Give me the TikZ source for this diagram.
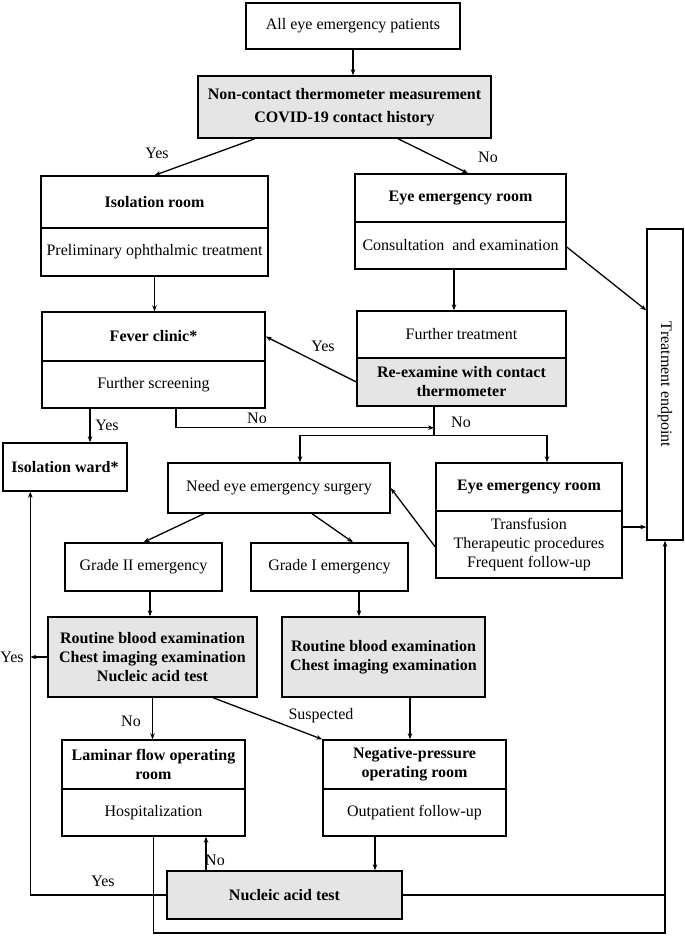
\documentclass[tikz,border=0pt]{standalone}
\usepackage{fontspec}
\setmainfont{Liberation Serif}
\usetikzlibrary{arrows.meta,calc}
\definecolor{boxgray}{RGB}{229,229,229}
\begin{document}
\begin{tikzpicture}[x=1pt,y=-1pt,
  bx/.style={draw, line width=1.4pt, inner sep=0pt, align=center, font=\fontsize{16}{19}\selectfont},
  gbx/.style={bx, fill=boxgray},
  bf/.style={font=\fontsize{16}{19}\selectfont\bfseries},
  ln/.style={line width=1.3pt},
  arr/.style={ln, -{Stealth[length=6pt,width=4.5pt]}},
  lbl/.style={font=\fontsize{16}{19}\selectfont, inner sep=0pt}
]
\fill[white] (0,0) rectangle (685,937);
\useasboundingbox (0,0) rectangle (685,937);

% boxes
\node[bx,minimum width=214pt,minimum height=46pt] (all) at (353,26) {All eye emergency patients};
\node[gbx,bf,minimum width=293pt,minimum height=62pt] (nc) at (344.5,107) {Non-contact thermometer measurement\\[4pt]COVID-19 contact history};
\node[bx,bf,minimum width=227pt,minimum height=52pt] (isoT) at (154.5,202) {Isolation room};
\node[bx,minimum width=227pt,minimum height=48pt] (isoB) at (154.5,252) {Preliminary ophthalmic treatment};
\node[bx,bf,minimum width=211pt,minimum height=48pt] (eyeT) at (460.5,198) {Eye emergency room};
\node[bx,minimum width=211pt,minimum height=47pt] (eyeB) at (460.5,245.5) {Consultation\ \ and examination};
\node[bx,minimum width=36pt,minimum height=311pt,label={[lbl,rotate=-90]center:Treatment endpoint}] (tep) at (665,384.5) {};
\node[bx,bf,minimum width=223pt,minimum height=49pt] (fevT) at (153.5,336.5) {Fever clinic*};
\node[bx,minimum width=223pt,minimum height=47pt] (fevB) at (153.5,384.5) {Further screening};
\node[bx,minimum width=209pt,minimum height=47pt] (ftT) at (461.5,334.5) {Further treatment};
\node[gbx,bf,minimum width=209pt,minimum height=48pt] (ftB) at (461.5,382) {Re-examine with contact\\thermometer};
\node[bx,bf,minimum width=124pt,minimum height=48pt] (ward) at (65,467) {Isolation ward*};
\node[bx,minimum width=222pt,minimum height=50pt] (need) at (279,488) {Need eye emergency surgery};
\node[bx,bf,minimum width=186pt,minimum height=48pt] (er2T) at (529,487) {Eye emergency room};
\node[bx,minimum width=186pt,minimum height=67pt] (er2B) at (529,544.5) {Transfusion\\Therapeutic procedures\\Frequent follow-up};
\node[bx,minimum width=157pt,minimum height=48pt] (g2) at (143.5,567) {Grade II emergency};
\node[bx,minimum width=157pt,minimum height=48pt] (g1) at (329.5,567) {Grade I emergency};
\node[gbx,bf,minimum width=209pt,minimum height=80pt] (gr1) at (152.5,657) {Routine blood examination\\Chest imaging examination\\Nucleic acid test};
\node[gbx,bf,minimum width=203pt,minimum height=80pt] (gr2) at (383.5,657) {Routine blood examination\\Chest imaging examination};
\node[bx,bf,minimum width=183pt,minimum height=49pt] (lamT) at (153.5,764.5) {Laminar flow operating\\room};
\node[bx,minimum width=183pt,minimum height=47pt] (lamB) at (153.5,812.5) {Hospitalization};
\node[bx,bf,minimum width=183pt,minimum height=49pt] (negT) at (414.5,764.5) {Negative-pressure\\operating room};
\node[bx,minimum width=183pt,minimum height=47pt] (negB) at (414.5,812.5) {Outpatient follow-up};
\node[gbx,bf,minimum width=235pt,minimum height=48pt] (nuc) at (284.5,895) {Nucleic acid test};

% connectors
\draw[arr] (all.south) -- (all.south |- nc.north);
\draw[arr] ([xshift=-89.5pt]nc.south) -- (isoT.north);
\draw[arr] ([xshift=53.5pt]nc.south) -- ([xshift=7.5pt]eyeT.north);
\draw[arr] ([xshift=-6.5pt]eyeB.south) -- ([xshift=-7.5pt]ftT.north);
\draw[arr] ([yshift=-1.5pt]eyeB.east) -- ([yshift=-82pt]tep.north west);
\draw[arr] (isoB.south) -- (isoB.south |- fevT.north);
\draw[arr] (ftB.west) -- (fevT.east);
\draw[arr] ([xshift=-63.5pt]fevB.south) -- ([xshift=25pt]ward.north);
\coordinate (j1) at ([xshift=-27.5pt,yshift=-21pt]ftB.south);
\coordinate (j2) at ([xshift=-27.5pt,yshift=-29pt]ftB.south);
\draw[arr] ([xshift=22.5pt]fevB.south) |- (j1);
\draw[ln] ([xshift=-27.5pt]ftB.south) -- (j2);
\draw[arr] (j2) -| ([xshift=21pt]need.north);
\draw[arr] (j2) -| ([xshift=18pt]er2T.north);
\draw[arr] ([yshift=-2.5pt]er2B.west) -- (need.east);
\coordinate (e2) at ([yshift=17.5pt]er2B.east);
\draw[arr] (e2) -- (e2 -| tep.west);
\draw[arr] ([xshift=-75pt]need.south) -- (g2.north);
\draw[arr] ([xshift=33pt]need.south) -- ([xshift=23.5pt]g1.north);
\draw[arr] ([xshift=6.5pt]g2.south) -- ([xshift=-2.5pt]gr1.north);
\draw[arr] ([xshift=29.5pt]g1.south) -- ([xshift=-24.5pt]gr2.north);
\coordinate (lft) at ([xshift=28pt]ward.south west);
\draw[arr] (nuc.west) -| (lft);
\draw[arr] (gr1.west) -- (gr1.west -| lft);
\draw[arr] (gr1.south) -- (gr1.south |- lamT.north);
\draw[arr] ([xshift=60.5pt]gr1.south) -- (negT.north west);
\draw[arr] ([xshift=26.5pt]gr2.south) -- ([xshift=-4.5pt]negT.north);
\draw[arr] ([xshift=-39.5pt]negB.south) -- ([xshift=90.5pt]nuc.north);
\draw[arr] ([xshift=-78.5pt]nuc.north) -- ([xshift=52.5pt]lamB.south);
\draw[arr] (nuc.east) -| (tep.south);
\draw[ln] (lamB.south) |- ($(tep.south |- nuc.east)+(0,38)$) -- (tep.south |- nuc.east);

% labels
\node[lbl] (l1) at (157,153) {Yes};
\node[lbl] (l2) at (488,157) {No};
\node[lbl] (l3) at (323,346) {Yes};
\node[lbl] (l4) at (107,425) {Yes};
\node[lbl] (l5) at (257,418) {No};
\node[lbl] (l6) at (461,422) {No};
\node[lbl] (l7) at (12,657) {Yes};
\node[lbl] (l8) at (131,721) {No};
\node[lbl] (l9) at (321,716) {Suspected};
\node[lbl] (l10) at (215,860) {No};
\node[lbl] (l11) at (103,881) {Yes};
\end{tikzpicture}
\end{document}
